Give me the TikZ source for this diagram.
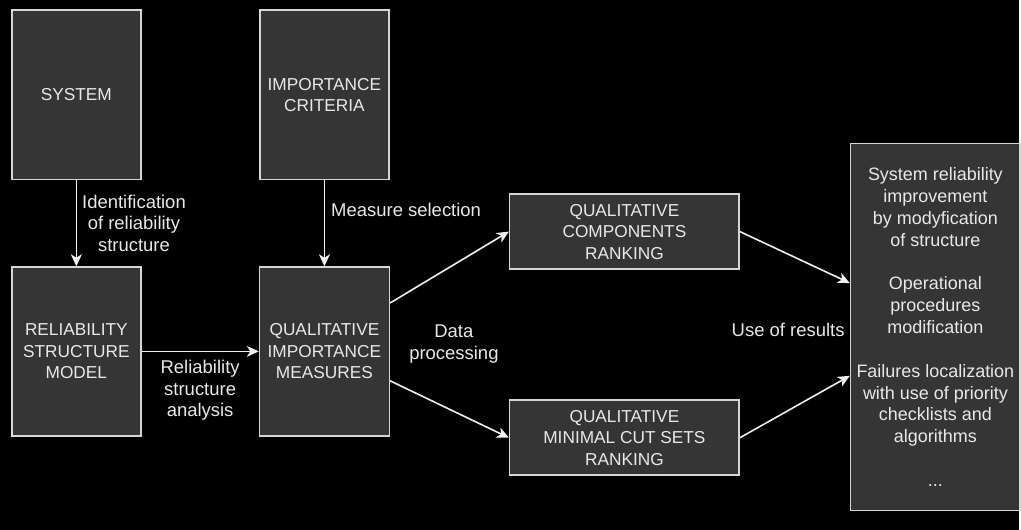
\documentclass[tikz,border=0pt]{standalone}
\usepackage{fontspec}
\setmainfont{Liberation Sans}
\usetikzlibrary{positioning,arrows.meta}
\definecolor{boxgrey}{HTML}{353535}
\definecolor{edgegrey}{HTML}{D6D6D6}
\definecolor{textgrey}{HTML}{E8E8E8}

\begin{document}
\begin{tikzpicture}[x=1pt,y=1pt,
block/.style={draw=edgegrey,line width=1.6pt,fill=boxgrey,text=textgrey,align=center,inner sep=0pt,
  font=\fontsize{17.3}{21.5}\selectfont},
flow/.style={draw=white!94!black,line width=1.6pt,-{Stealth[length=12pt,width=11pt,inset=3.5pt]}},
note/.style={text=textgrey,align=center,inner sep=0pt,font=\fontsize{18.5}{21.5}\selectfont}]
\fill[black] (0,0) rectangle (1021,-531);
\node[block,minimum width=129pt,minimum height=170pt] (sys) at (76.5,-95) {SYSTEM};
\node[block,minimum width=129pt,minimum height=170pt,right=118pt of sys] (crit) {IMPORTANCE\\CRITERIA};
\node[block,minimum width=129pt,minimum height=169pt,below=86pt of sys] (rsm) {RELIABILITY\\STRUCTURE\\MODEL};
\node[block,minimum width=130pt,minimum height=169pt,below=86pt of crit] (qim) {QUALITATIVE\\IMPORTANCE\\MEASURES};
\node[block,minimum width=230pt,minimum height=75pt,right=119pt of qim,yshift=120pt] (cr) {QUALITATIVE\\COMPONENTS\\RANKING};
\node[block,minimum width=230pt,minimum height=75pt,right=119pt of qim,yshift=-86.5pt] (mcs) {QUALITATIVE\\MINIMAL CUT SETS\\RANKING};
\node[block,minimum width=170pt,minimum height=368pt,right=110pt of cr,yshift=-95.5pt,
  font=\fontsize{18}{21.9}\selectfont] (res)
  {System reliability\\improvement\\by modyfication\\of structure\\[21.9pt]
   Operational\\procedures\\modification\\[21.9pt]
   Failures localization\\with use of priority\\checklists and\\algorithms\\[21.9pt]...};
\node[note,right=19pt of qim,yshift=7.5pt] (dp) {Data\\processing};
\node[note,left=5pt of res.west,yshift=-3pt] (use) {Use of results};
\draw[flow] (sys) -- node[note,right=5pt] {Identification\\of reliability\\structure} (rsm);
\draw[flow] (crit) -- node[note,pos=0.34,right=6pt] {Measure selection} (qim);
\draw[flow] (rsm) -- node[note,below=8pt] {Reliability\\structure\\analysis} (qim);
\draw[flow] ([yshift=48.5pt]qim.east) -- (cr.west);
\draw[flow] ([yshift=-29.5pt]qim.east) -- (mcs.west);
\draw[flow] (cr.east) -- ([yshift=44pt]res.west);
\draw[flow] (mcs.east) -- ([yshift=-49pt]res.west);
\end{tikzpicture}
\end{document}
